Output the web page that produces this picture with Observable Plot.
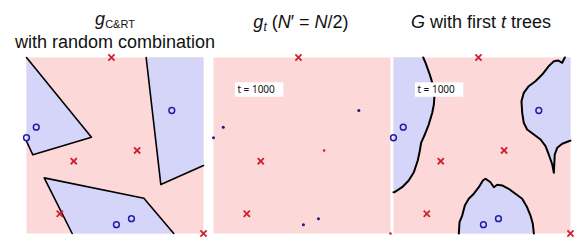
<!DOCTYPE html>
<html>
<head>
<meta charset="utf-8">
<script src="https://cdn.jsdelivr.net/npm/d3@7"></script>
<script src="https://cdn.jsdelivr.net/npm/@observablehq/plot@0.6"></script>
<style>
  html, body { margin: 0; padding: 0; background: #fff; }
  #wrap { position: relative; width: 581px; height: 248px; font-family: "Liberation Sans", Arial, sans-serif; color: #111; }
  .title { position: absolute; width: 240px; text-align: center; font-size: 18px; line-height: 18px; white-space: nowrap; }
  .panel { position: absolute; top: 57px; }
  .panel svg { overflow: visible; background: transparent; }
</style>
</head>
<body>
<div id="wrap">
  <div class="title" style="left:-5px; top:10px;"><i>g</i><span style="font-size:11px; position:relative; top:3px;">C&amp;RT</span></div>
  <div class="title" style="left:-5px; top:33px;">with random combination</div>
  <div class="title" style="left:181px; top:13px;"><i>g</i><span style="font-size:12px; position:relative; top:3px;"><i>t</i></span> (<i>N</i>′ = <i>N</i>/2)</div>
  <div class="title" style="left:361px; top:13px;"><i>G</i> with first <i>t</i> trees</div>
  <div class="panel" id="p1" style="left:26px;"></div>
  <div class="panel" id="p2" style="left:213px;"></div>
  <div class="panel" id="p3" style="left:393px;"></div>
</div>
<script>
// ---- data (unit square, y measured from top) ----
const redX  = [0.48, 0.625, 0.267, 0.188, 1.0];
const redY  = [0.0,  0.528, 0.589, 0.888, 1.0];
const blueX = [0.821, 0.055, 0.0,   0.593, 0.508];
const blueY = [0.301, 0.396, 0.456, 0.916, 0.95];
// which examples were drawn into the bootstrap sample of g_t (1 = shown large)
const redInSample  = [1, 0, 1, 1, 0];
const blueInSample = [0, 0, 0, 0, 0];

// C&RT with random combination: straight boundaries
const cartA = [[0, 0], [0.367, 0.453], [0.036, 0.553], [0, 0.476]];
const cartB = [[0.676, 0], [0.759, 0.722], [1, 0.614]];
const cartC = [[0.258, 1], [0.1, 0.684], [0.663, 0.8], [0.832, 1]];

// G with first t trees: jagged boundaries
const forestLeft = [[0.168,0],[0.181,0.030],[0.205,0.097],[0.219,0.144],[0.232,0.210],[0.228,0.267],[0.219,0.314],[0.199,0.381],[0.177,0.4375],[0.156,0.485],[0.149,0.528],[0.137,0.585],[0.115,0.652],[0.086,0.699],[0.049,0.737],[0.006,0.765],[0,0.765]];
const forestRight = [[0.968,0],[0.953,0.030],[0.931,0.017],[0.906,0.021],[0.877,0.049],[0.840,0.097],[0.802,0.135],[0.764,0.163],[0.736,0.201],[0.723,0.248],[0.727,0.314],[0.736,0.371],[0.755,0.409],[0.793,0.4375],[0.831,0.466],[0.859,0.504],[0.877,0.551],[0.897,0.608],[0.906,0.655],[0.911,0.551],[0.925,0.513],[0.953,0.490],[0.990,0.476],[1,0.472]];
const forestBottom = [[0.369,1],[0.373,0.936],[0.388,0.898],[0.403,0.841],[0.425,0.803],[0.454,0.774],[0.482,0.737],[0.505,0.699],[0.520,0.689],[0.548,0.709],[0.567,0.737],[0.586,0.723],[0.614,0.727],[0.651,0.746],[0.689,0.774],[0.727,0.803],[0.755,0.851],[0.774,0.898],[0.787,0.945],[0.793,1]];

const labelText = "t = 1000";

// ---- styles ----
const PINK = "#fdd8d8", LAV = "#d5d5f9", RED = "#d0202e", BLUE = "#1f1fa8";

const reds = redX.map((x, i) => ({x, y: redY[i], s: redInSample[i]}));
const blues = blueX.map((x, i) => ({x, y: blueY[i], s: blueInSample[i]}));
const toRows = (pts, id) => pts.map(([x, y]) => ({x, y, id}));

function basePlot(marks) {
  return Plot.plot({
    width: 177, height: 176, margin: 0,
    x: {domain: [0, 1], axis: null},
    y: {domain: [0, 1], reverse: true, axis: null},
    style: {overflow: "visible", background: "transparent"},
    marks: [Plot.frame({fill: PINK, stroke: null}), ...marks]
  });
}
function regions(fills, strokes, sw) {
  return [
    Plot.line(fills.flat(), {x: "x", y: "y", z: "id", fill: LAV, stroke: null, curve: "linear"}),
    Plot.line(strokes.flat(), {x: "x", y: "y", z: "id", stroke: "#000", strokeWidth: sw, strokeLinejoin: "round", curve: "linear"})
  ];
}
function bigPoints(r, b) {
  return [
    Plot.dot(r, {x: "x", y: "y", symbol: "times", r: 2.9, stroke: RED, strokeWidth: 1.8}),
    Plot.dot(b, {x: "x", y: "y", symbol: "circle", r: 2.9, stroke: BLUE, strokeWidth: 1.5, fill: "none"})
  ];
}
function label() {
  return [
    Plot.rect([{}], {x1: 0.124, x2: 0.397, y1: 0.144, y2: 0.226, fill: "#fff"}),
    Plot.text([labelText], {x: 0.135, y: 0.2, text: d => d, textAnchor: "start", fontSize: 10, fill: "#111", lineAnchor: "bottom"})
  ];
}

// panel 1
const s1 = [toRows(cartA, "a"), toRows(cartB, "b"), toRows(cartC, "c")];
const f1 = [toRows(cartA, "a"), toRows([...cartB, [1, 0]], "b"), toRows(cartC, "c")];
document.getElementById("p1").append(basePlot([
  ...regions(f1, s1, 1.6),
  ...bigPoints(reds, blues)
]));

// panel 2
document.getElementById("p2").append(basePlot([
  Plot.dot(reds.filter(d => !d.s), {x: "x", y: "y", r: 1.3, fill: RED}),
  Plot.dot(blues.filter(d => !d.s), {x: "x", y: "y", r: 1.5, fill: "#1a1a88"}),
  ...bigPoints(reds.filter(d => d.s), blues.filter(d => d.s)),
  ...label()
]));

// panel 3
const s3 = [toRows(forestLeft, "l"), toRows(forestRight, "r"), toRows(forestBottom, "b")];
const f3 = [toRows([...forestLeft, [0, 0]], "l"), toRows([...forestRight, [1, 0]], "r"), toRows(forestBottom, "b")];
document.getElementById("p3").append(basePlot([
  ...regions(f3, s3, 2),
  ...bigPoints(reds, blues),
  ...label()
]));
</script>
</body>
</html>
